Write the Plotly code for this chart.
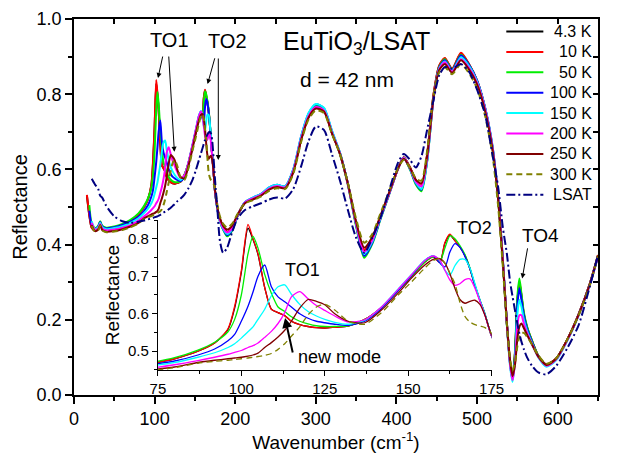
import plotly.graph_objects as go

# Wavenumber grid (cm^-1)
W = [16, 19, 22, 26, 30, 32.5, 35, 40, 50, 60, 70, 80, 87, 92, 96,
     98, 100, 102, 103.5, 105, 107, 109, 111, 113, 115, 117.5, 120, 122.5, 125, 128, 132, 137, 142, 147, 151,
     155, 157.5, 159.5, 161, 162.5, 164, 165.5, 167, 168.5, 170, 171.5, 173, 175,
     178, 181, 185, 190, 196, 203, 212, 222, 232, 242, 252, 262, 272, 282, 291, 300, 310, 320, 330, 340,
     350, 360, 370, 380, 392, 402, 409, 417, 424, 431, 438, 446, 453, 460, 469, 480, 490, 500, 510, 519,
     526, 532, 537, 541, 544, 547, 550, 552.5, 555, 558, 562, 568, 576, 586, 598, 612, 626, 640, 650]

R_4K = [0.530, 0.478, 0.445, 0.438, 0.447, 0.460, 0.445, 0.439, 0.442, 0.449, 0.462, 0.480, 0.500, 0.522, 0.558,
        0.615, 0.710, 0.828, 0.798, 0.758, 0.670, 0.612, 0.603, 0.595, 0.580, 0.571, 0.566, 0.563, 0.562, 0.564, 0.567, 0.585, 0.617, 0.662, 0.700,
        0.738, 0.752, 0.737, 0.788, 0.810, 0.795, 0.778, 0.755, 0.720, 0.675, 0.635, 0.598, 0.540,
        0.495, 0.468, 0.448, 0.433, 0.444, 0.478, 0.511, 0.522, 0.532, 0.549, 0.556, 0.552, 0.595, 0.682, 0.740, 0.766, 0.757, 0.697, 0.643, 0.560,
        0.455, 0.383, 0.417, 0.473, 0.542, 0.602, 0.632, 0.604, 0.571, 0.555, 0.638, 0.798, 0.875, 0.895, 0.867, 0.908, 0.879, 0.836, 0.762, 0.660,
        0.525, 0.355, 0.190, 0.085, 0.045, 0.110, 0.248, 0.298, 0.263, 0.214, 0.178, 0.144, 0.104, 0.081, 0.097, 0.148, 0.215, 0.297, 0.372]

R_10K = [0.532, 0.478, 0.445, 0.438, 0.447, 0.460, 0.445, 0.439, 0.442, 0.449, 0.462, 0.480, 0.500, 0.522, 0.560,
         0.620, 0.715, 0.838, 0.800, 0.760, 0.670, 0.612, 0.603, 0.595, 0.580, 0.571, 0.566, 0.563, 0.562, 0.564, 0.567, 0.585, 0.617, 0.662, 0.700,
         0.738, 0.752, 0.737, 0.790, 0.812, 0.795, 0.778, 0.755, 0.720, 0.675, 0.635, 0.598, 0.540,
         0.495, 0.468, 0.448, 0.434, 0.444, 0.478, 0.511, 0.522, 0.532, 0.549, 0.556, 0.552, 0.595, 0.682, 0.740, 0.766, 0.757, 0.697, 0.643, 0.560,
         0.456, 0.386, 0.418, 0.474, 0.542, 0.602, 0.632, 0.605, 0.572, 0.557, 0.640, 0.800, 0.876, 0.896, 0.868, 0.910, 0.880, 0.836, 0.762, 0.660,
         0.525, 0.355, 0.190, 0.085, 0.045, 0.110, 0.250, 0.302, 0.265, 0.215, 0.180, 0.145, 0.104, 0.081, 0.097, 0.148, 0.215, 0.297, 0.372]

R_50K = [None, 0.505, 0.455, 0.444, 0.450, 0.462, 0.450, 0.445, 0.448, 0.455, 0.466, 0.483, 0.503, 0.524, 0.552,
         0.585, 0.650, 0.760, 0.806, 0.775, 0.705, 0.655, 0.618, 0.606, 0.592, 0.580, 0.573, 0.568, 0.566, 0.566, 0.568, 0.584, 0.616, 0.662, 0.700,
         0.738, 0.752, 0.740, 0.775, 0.808, 0.800, 0.782, 0.758, 0.722, 0.677, 0.637, 0.600, 0.540,
         0.493, 0.462, 0.440, 0.422, 0.436, 0.476, 0.512, 0.524, 0.534, 0.551, 0.558, 0.554, 0.598, 0.686, 0.745, 0.770, 0.760, 0.699, 0.640, 0.556,
         0.448, 0.365, 0.402, 0.466, 0.540, 0.602, 0.630, 0.598, 0.560, 0.542, 0.620, 0.790, 0.872, 0.893, 0.865, 0.905, 0.878, 0.834, 0.760, 0.658,
         0.522, 0.352, 0.188, 0.085, 0.045, 0.115, 0.262, 0.310, 0.270, 0.220, 0.182, 0.145, 0.104, 0.080, 0.096, 0.147, 0.214, 0.296, 0.370]

R_100K = [None, 0.490, 0.452, 0.442, 0.448, 0.460, 0.448, 0.443, 0.446, 0.452, 0.461, 0.474, 0.490, 0.506, 0.528,
          0.545, 0.580, 0.620, 0.658, 0.700, 0.730, 0.672, 0.645, 0.632, 0.618, 0.600, 0.588, 0.580, 0.576, 0.572, 0.569, 0.580, 0.614, 0.662, 0.702,
          0.742, 0.754, 0.735, 0.725, 0.765, 0.787, 0.777, 0.753, 0.720, 0.676, 0.636, 0.599, 0.540,
          0.492, 0.463, 0.441, 0.425, 0.438, 0.477, 0.513, 0.525, 0.535, 0.552, 0.559, 0.555, 0.600, 0.690, 0.749, 0.773, 0.763, 0.702, 0.643, 0.559,
          0.452, 0.370, 0.405, 0.468, 0.541, 0.603, 0.631, 0.600, 0.563, 0.546, 0.622, 0.790, 0.870, 0.890, 0.864, 0.903, 0.878, 0.836, 0.764, 0.664,
          0.530, 0.360, 0.190, 0.080, 0.040, 0.100, 0.240, 0.284, 0.255, 0.212, 0.176, 0.142, 0.102, 0.078, 0.094, 0.146, 0.213, 0.295, 0.369]

R_150K = [None, None, 0.462, 0.442, 0.446, 0.458, 0.446, 0.441, 0.444, 0.449, 0.458, 0.470, 0.484, 0.496, 0.510,
          0.520, 0.535, 0.552, 0.565, 0.585, 0.612, 0.648, 0.672, 0.677, 0.652, 0.625, 0.606, 0.594, 0.585, 0.577, 0.572, 0.583, 0.618, 0.666, 0.705,
          0.743, 0.755, 0.741, 0.716, 0.703, 0.728, 0.745, 0.745, 0.722, 0.680, 0.637, 0.599, 0.541,
          0.492, 0.463, 0.442, 0.428, 0.440, 0.478, 0.513, 0.525, 0.535, 0.552, 0.559, 0.555, 0.600, 0.690, 0.750, 0.774, 0.764, 0.703, 0.644, 0.560,
          0.455, 0.375, 0.408, 0.470, 0.542, 0.603, 0.631, 0.601, 0.565, 0.548, 0.622, 0.788, 0.868, 0.887, 0.862, 0.898, 0.875, 0.834, 0.763, 0.664,
          0.530, 0.360, 0.185, 0.075, 0.035, 0.090, 0.215, 0.253, 0.235, 0.200, 0.170, 0.138, 0.100, 0.075, 0.092, 0.145, 0.212, 0.294, 0.368]

R_200K = [None, None, 0.458, 0.440, 0.443, 0.455, 0.443, 0.438, 0.440, 0.445, 0.452, 0.464, 0.475, 0.484, 0.492,
          0.497, 0.502, 0.510, 0.515, 0.522, 0.537, 0.553, 0.574, 0.603, 0.645, 0.659, 0.640, 0.622, 0.609, 0.594, 0.578, 0.584, 0.618, 0.665, 0.704,
          0.742, 0.754, 0.742, 0.716, 0.690, 0.676, 0.680, 0.691, 0.693, 0.668, 0.633, 0.596, 0.540,
          0.494, 0.465, 0.445, 0.432, 0.443, 0.478, 0.512, 0.523, 0.533, 0.549, 0.556, 0.552, 0.596, 0.684, 0.742, 0.766, 0.757, 0.698, 0.641, 0.558,
          0.455, 0.380, 0.412, 0.472, 0.542, 0.602, 0.630, 0.602, 0.568, 0.555, 0.628, 0.788, 0.866, 0.885, 0.860, 0.893, 0.870, 0.830, 0.760, 0.660,
          0.528, 0.358, 0.188, 0.080, 0.040, 0.085, 0.185, 0.212, 0.212, 0.190, 0.165, 0.136, 0.101, 0.078, 0.094, 0.146, 0.213, 0.295, 0.368]

R_250K = [None, None, 0.452, 0.436, 0.440, 0.452, 0.439, 0.434, 0.436, 0.441, 0.448, 0.458, 0.470, 0.476, 0.480,
          0.482, 0.484, 0.487, 0.490, 0.495, 0.510, 0.523, 0.538, 0.556, 0.580, 0.615, 0.638, 0.633, 0.624, 0.600, 0.580, 0.576, 0.610, 0.655, 0.695,
          0.730, 0.745, 0.747, 0.735, 0.707, 0.668, 0.638, 0.628, 0.633, 0.636, 0.625, 0.596, 0.543,
          0.497, 0.470, 0.450, 0.440, 0.450, 0.480, 0.510, 0.520, 0.530, 0.546, 0.553, 0.550, 0.592, 0.680, 0.738, 0.762, 0.754, 0.696, 0.640, 0.560,
          0.460, 0.392, 0.420, 0.476, 0.545, 0.603, 0.628, 0.603, 0.572, 0.563, 0.635, 0.790, 0.864, 0.880, 0.857, 0.890, 0.866, 0.826, 0.755, 0.655,
          0.522, 0.352, 0.190, 0.090, 0.050, 0.080, 0.150, 0.182, 0.190, 0.178, 0.160, 0.135, 0.102, 0.080, 0.096, 0.148, 0.214, 0.296, 0.370]

R_300K = [None, None, 0.450, 0.435, 0.438, 0.450, 0.438, 0.433, 0.435, 0.439, 0.446, 0.456, 0.468, 0.473, 0.476,
          0.478, 0.480, 0.482, 0.484, 0.486, 0.489, 0.494, 0.505, 0.520, 0.540, 0.565, 0.597, 0.618, 0.625, 0.610, 0.580, 0.572, 0.603, 0.650, 0.685,
          0.722, 0.742, 0.747, 0.735, 0.708, 0.680, 0.630, 0.593, 0.578, 0.571, 0.567, 0.563, 0.548,
          0.505, 0.475, 0.455, 0.445, 0.455, 0.482, 0.510, 0.518, 0.528, 0.543, 0.550, 0.548, 0.588, 0.675, 0.733, 0.757, 0.750, 0.694, 0.640, 0.562,
          0.468, 0.405, 0.428, 0.482, 0.548, 0.604, 0.625, 0.604, 0.576, 0.570, 0.648, 0.795, 0.858, 0.872, 0.853, 0.880, 0.856, 0.815, 0.742, 0.640,
          0.505, 0.340, 0.185, 0.095, 0.065, 0.085, 0.130, 0.155, 0.165, 0.165, 0.155, 0.135, 0.105, 0.083, 0.097, 0.148, 0.212, 0.293, 0.368]

R_LSAT = [None, None, 0.575, 0.560, 0.548, 0.530, 0.525, 0.503, 0.475, 0.462, 0.458, 0.461, 0.464, 0.467, 0.470,
          0.471, 0.473, 0.474, 0.475, 0.477, 0.479, 0.482, 0.485, 0.488, 0.490, 0.494, 0.498, 0.503, 0.508, 0.515, 0.522, 0.533, 0.550, 0.572, 0.597,
          0.625, 0.643, 0.657, 0.668, 0.678, 0.686, 0.693, 0.698, 0.700, 0.695, 0.675, 0.635, 0.570,
          0.490, 0.410, 0.378, 0.392, 0.432, 0.470, 0.492, 0.502, 0.510, 0.520, 0.525, 0.523, 0.548, 0.610, 0.675, 0.714, 0.705, 0.640, 0.570, 0.490,
          0.418, 0.378, 0.418, 0.470, 0.552, 0.618, 0.641, 0.625, 0.605, 0.635, 0.705, 0.785, 0.850, 0.872, 0.868, 0.880, 0.860, 0.812, 0.745, 0.640,
          0.555, 0.445, 0.375, 0.300, 0.262, 0.225, 0.190, 0.163, 0.142, 0.122, 0.100, 0.078, 0.060, 0.055, 0.077, 0.125, 0.186, 0.290, 0.372]

NAMES = ["4.3 K", "10 K", "50 K", "100 K", "150 K", "200 K", "250 K", "300 K", "LSAT"]
SERIES = [R_4K, R_10K, R_50K, R_100K, R_150K, R_200K, R_250K, R_300K, R_LSAT]
COLORS = ["#000000", "#FF0000", "#00EE00", "#0000FF", "#00FFFF", "#FF00FF", "#800000", "#808000", "#000080"]
DASHES = ["solid"] * 7 + ["6px,4px", "9px,3px,2px,3px"]

FONT = "Arial, 'Liberation Sans', sans-serif"

fig = go.Figure()

# main panel
for name, vals, col, dash in zip(NAMES, SERIES, COLORS, DASHES):
    fig.add_trace(go.Scatter(x=W, y=vals, name=name, mode="lines", showlegend=False,
                             line=dict(color=col, width=2, dash=dash, shape="spline", smoothing=0.7),
                             xaxis="x", yaxis="y", hoverinfo="skip"))

# inset panel (same spectra, zoomed)
for name, vals, col, dash in zip(NAMES[:-1], SERIES[:-1], COLORS[:-1], DASHES[:-1]):
    fig.add_trace(go.Scatter(x=W, y=vals, name=name, mode="lines", showlegend=False,
                             line=dict(color=col, width=1.3, dash=dash, shape="spline", smoothing=0.7),
                             xaxis="x2", yaxis="y2", hoverinfo="skip"))

# dummy trace for the mirrored inner ticks
fig.add_trace(go.Scatter(x=[None], y=[None], xaxis="x3", yaxis="y3", showlegend=False, hoverinfo="skip"))

axis_common = dict(showgrid=False, zeroline=False, linecolor="black", linewidth=1.5,
                   tickcolor="black", tickwidth=1.5)

fig.update_layout(
    width=620, height=456,
    margin=dict(l=74, r=9, t=19, b=61),
    paper_bgcolor="white", plot_bgcolor="rgba(0,0,0,0)",
    font=dict(family=FONT, color="black", size=16),
    showlegend=False,
    xaxis=dict(domain=[0, 1], range=[0, 650], anchor="y", showline=True, mirror=True,
               ticks="outside", ticklen=7, dtick=100, tick0=0,
               minor=dict(dtick=50, ticklen=4, ticks="outside", tickcolor="black", tickwidth=1.5),
               tickfont=dict(size=18),
               title=dict(text="Wavenumber (cm<sup>-1</sup>)", font=dict(size=19), standoff=0),
               **axis_common),
    yaxis=dict(domain=[0, 1], range=[0, 1.0], anchor="x", showline=True, mirror=True,
               ticks="outside", ticklen=7, dtick=0.2, tick0=0, tickformat=".1f",
               minor=dict(dtick=0.1, ticklen=4, ticks="outside", tickcolor="black", tickwidth=1.5),
               tickfont=dict(size=18),
               title=dict(text="Reflectance", font=dict(size=20), standoff=4),
               **axis_common),
    xaxis3=dict(overlaying="x", side="top", range=[0, 650], anchor="y3", showline=False,
                ticks="inside", ticklen=5, dtick=50, tick0=0, showticklabels=False,
                showgrid=False, zeroline=False, tickcolor="black", tickwidth=1.5),
    yaxis3=dict(overlaying="y", side="right", range=[0, 1.0], anchor="x3", showline=False,
                ticks="inside", ticklen=5, dtick=0.1, tick0=0, showticklabels=False,
                showgrid=False, zeroline=False, tickcolor="black", tickwidth=1.5),
    xaxis2=dict(domain=[0.1601, 0.797], range=[75, 175], anchor="y2", showline=True,
                ticks="outside", ticklen=5, dtick=25, tick0=75,
                minor=dict(dtick=12.5, ticklen=3, ticks="outside", tickcolor="black", tickwidth=1.2),
                tickfont=dict(size=15), showgrid=False, zeroline=False,
                linecolor="black", linewidth=1.2, tickcolor="black", tickwidth=1.2),
    yaxis2=dict(domain=[0.0665, 0.4654], range=[0.45, 0.85], anchor="x2", showline=True,
                ticks="outside", ticklen=5, dtick=0.1, tick0=0.5, tickformat=".1f",
                minor=dict(dtick=0.05, ticklen=3, ticks="outside", tickcolor="black", tickwidth=1.2),
                tickfont=dict(size=15), showgrid=False, zeroline=False,
                linecolor="black", linewidth=1.2, tickcolor="black", tickwidth=1.2,
                title=dict(text="Reflectance", font=dict(size=19), standoff=3)),
)

# legend drawn as samples + right-aligned labels (paper coordinates)
LEG_X0, LEG_X1, LEG_TXT = 0.825, 0.8957, 0.9926
for i, (name, col, dash) in enumerate(zip(NAMES, COLORS, DASHES)):
    yp = (395 - (31.5 + 20.4 * i)) / 376
    fig.add_shape(type="line", xref="paper", yref="paper", x0=LEG_X0, x1=LEG_X1, y0=yp, y1=yp,
                  line=dict(color=col, width=2, dash=dash))
    fig.add_annotation(text=name, xref="paper", yref="paper", x=LEG_TXT, y=yp,
                       xanchor="right", yanchor="middle", showarrow=False,
                       font=dict(size=16, family=FONT, color="black"))

def label(text, x, y, size):
    fig.add_annotation(text=text, x=x, y=y, xref="x", yref="y", showarrow=False,
                       font=dict(size=size, family=FONT, color="black"),
                       xanchor="center", yanchor="middle")

label("TO1", 118.5, 0.944, 20)
label("TO2", 190.3, 0.941, 20)
label("EuTiO<sub>3</sub>/LSAT", 351, 0.935, 25)
label("d = 42 nm", 338.2, 0.838, 21)
label("TO4", 578.2, 0.423, 19)
label("TO1", 284, 0.332, 18)
label("TO2", 497, 0.444, 18)
label("new mode", 329.7, 0.101, 18)

def arrow(x, y, ax, ay, width=1, size=1.0):
    fig.add_annotation(text="", x=x, y=y, xref="x", yref="y", ax=ax, ay=ay,
                       axref="pixel", ayref="pixel", showarrow=True, arrowhead=2,
                       arrowsize=size, arrowwidth=width, arrowcolor="black", standoff=0)

arrow(104.2, 0.843, 5, -23)
arrow(124.5, 0.647, -5.7, -96.7)
arrow(165.7, 0.827, 7.6, -27.3)
arrow(179.0, 0.625, 0, -103)
arrow(556.0, 0.310, 5.6, -31.6)
arrow(261.8, 0.205, 8, 36, width=2, size=1.0)

fig.write_html("out.html", config={"displayModeBar": False},
               post_script="document.body.style.margin='0px';document.body.style.overflow='hidden';")
